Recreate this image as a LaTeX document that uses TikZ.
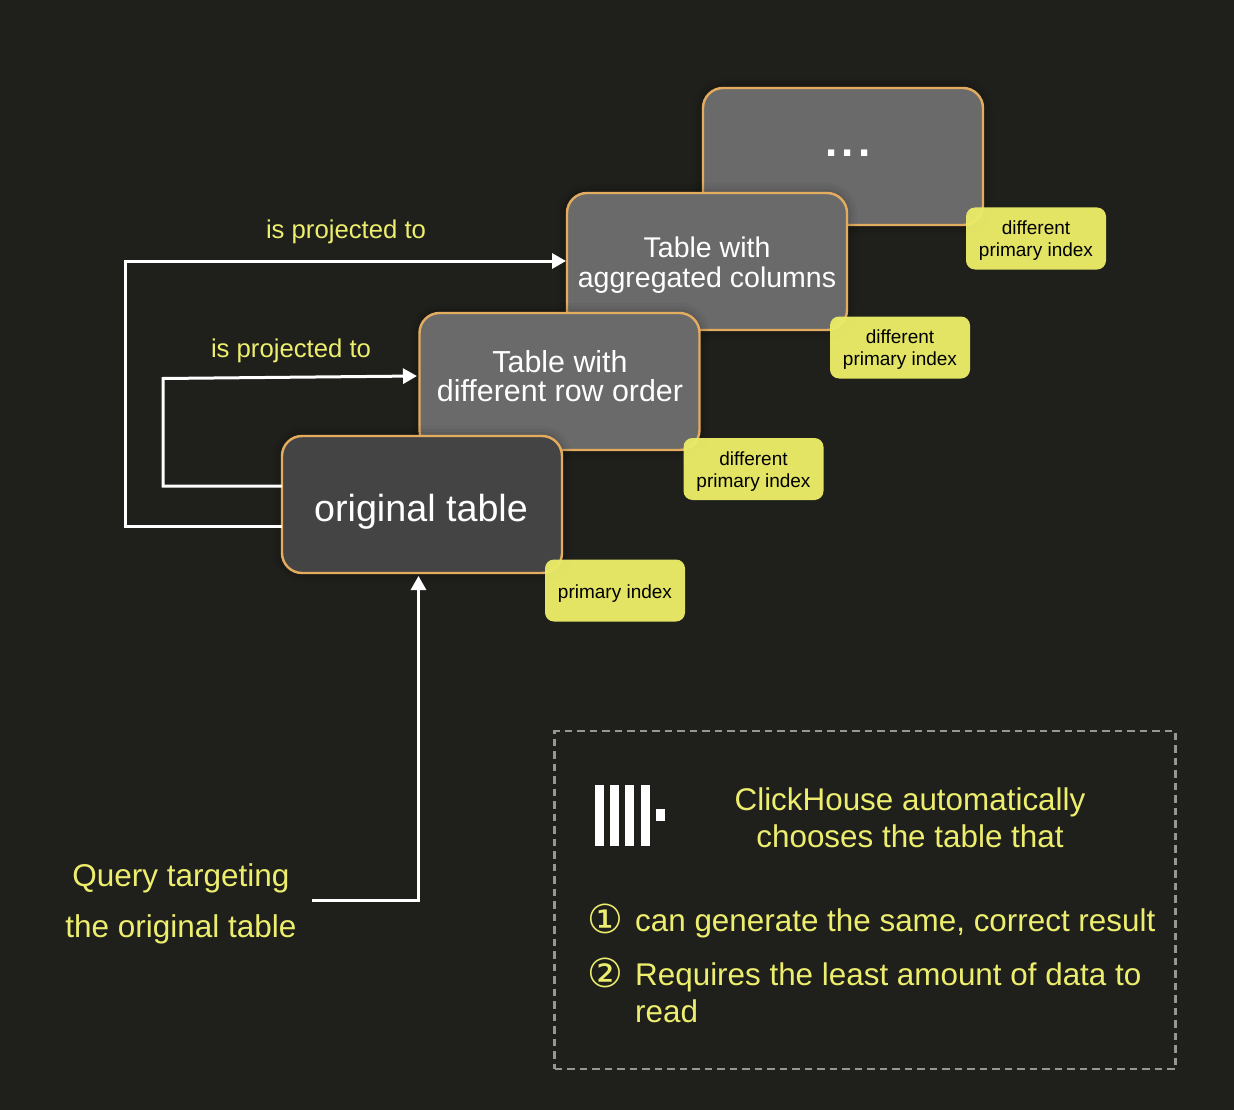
\documentclass[tikz,border=0pt]{standalone}
\usepackage{fontspec}
\setmainfont{Liberation Sans}
\newfontfamily\symfont{DejaVu Sans}
\usetikzlibrary{arrows.meta}
\definecolor{bgcol}{HTML}{1F201B}
\definecolor{boxgray}{HTML}{6A6A6A}
\definecolor{boxdark}{HTML}{444444}
\definecolor{edgeorange}{HTML}{E3AC5E}
\definecolor{noteyellow}{HTML}{EBEB68}
\definecolor{textyellow}{HTML}{EEEE6E}
\definecolor{dashgray}{HTML}{969696}
\newcommand{\fsz}[2]{\fontsize{#1}{#2}\selectfont}
\tikzset{
  softshade/.style={
    preaction={draw=black,draw opacity=.03,line width=20pt},
    preaction={draw=black,draw opacity=.04,line width=14pt},
    preaction={draw=black,draw opacity=.06,line width=8pt}},
  tablebox/.style={softshade,draw=edgeorange,line width=2.4pt,rounded corners=20pt,
    minimum width=280pt,minimum height=137pt,inner sep=0pt,outer sep=0pt},
  graybox/.style={tablebox,fill=boxgray},
  darkbox/.style={tablebox,fill=boxdark},
  boxtext/.style={text=white,align=center,inner sep=0pt,font=\fsz{28.5}{29.5}},
  notebox/.style={fill=noteyellow,fill opacity=.96,rounded corners=9pt,
    minimum width=140pt,minimum height=62pt,inner sep=0pt,outer sep=0pt},
  notetext/.style={text=black,align=center,inner sep=0pt,font=\fsz{19}{22}},
  flow/.style={draw=white,line width=3pt},
  flowarrow/.style={flow,line join=miter,-{Triangle[length=14pt,width=15pt]}},
  projlabel/.style={text=textyellow,font=\fsz{25.7}{30},inner sep=0pt},
  yellowtext/.style={text=textyellow,font=\fsz{31.4}{37},inner sep=0pt},
  circlenum/.style={text=textyellow,font=\symfont\fsz{40}{40},inner sep=0pt},
  logobar/.style={fill=white,inner sep=0pt,outer sep=0pt,minimum width=9pt,minimum height=61pt},
  logodot/.style={fill=white,inner sep=0pt,outer sep=0pt,minimum width=8.5pt,minimum height=12pt},
  legendframe/.style={draw=dashgray,line width=2.7pt,dash pattern=on 7.5pt off 5pt,
    minimum width=621pt,minimum height=338pt,inner sep=0pt,outer sep=0pt}
}
\begin{document}
\begin{tikzpicture}[x=1pt,y=-1pt]
\fill[bgcol] (0,0) rectangle (1234,1110);
\useasboundingbox (0,0) rectangle (1234,1110);

\node[graybox] (more) at (843,156.5) {};
\node[text=white,font=\bfseries\fsz{44}{44},inner sep=0pt,anchor=base] (moredots) at (848,156.3) {.\hspace{4.3pt}.\hspace{4.3pt}.};
\node[graybox] (agg) at (707,261.5) {};
\node[boxtext] (aggtext) at (707,265) {Table with\\aggregated columns};
\node[graybox] (roworder) at (559.5,381.5) {};
\node[boxtext,font=\fsz{30.4}{29.5}] (rowtext) at (560,376) {Table with\\different row order};
\node[darkbox] (orig) at (422,504.5) {};
\node[boxtext,font=\fsz{37.7}{40}] (origtext) at (421,511.5) {original table};

\coordinate (bendA) at (125,526);
\coordinate (bendB) at (125,261);
\coordinate (bendC) at (163,486);
\coordinate (bendD) at (163,378.5);
\coordinate (startQ) at (312,900);
\coordinate (bendQ) at (418.5,900);
\coordinate (endQ) at (418.5,576);
\coordinate (endR) at (417,376);
\draw[flowarrow,shorten >=1pt] (orig.west |- bendA) -- (bendA) -- (bendB) -- (agg.west |- bendB);
\draw[flowarrow] (orig.west |- bendC) -- (bendC) -- (bendD) -- (endR);
\draw[flowarrow] (startQ) -- (bendQ) -- (endQ);

\node[notebox] (noteD) at (1036,238.5) {};
\node[notetext] (noteDtext) at (1036,241) {different\\primary index};
\node[notebox] (noteC) at (900,347.5) {};
\node[notetext] (noteCtext) at (900,350) {different\\primary index};
\node[notebox] (noteB) at (753.5,469) {};
\node[notetext] (noteBtext) at (753.5,471.5) {different\\primary index};
\node[notebox] (noteA) at (615,590.5) {};
\node[notetext] (noteAtext) at (615,593.5) {primary index};

\node[projlabel] (projA) at (346,232) {is projected to};
\node[projlabel] (projB) at (291,351) {is projected to};

\node[text=textyellow,font=\fsz{31.5}{51},align=center,inner sep=0pt] (query) at (181,904) {Query targeting\\the original table};

\node[legendframe] (legend) at (865,900) {};
\node[logobar] (barA) at (599.5,815.5) {};
\node[logobar] (barB) at (614.5,815.5) {};
\node[logobar] (barC) at (629.8,815.5) {};
\node[logobar] (barD) at (645,815.5) {};
\node[logodot] (barE) at (660.3,815) {};
\node[yellowtext,align=center] (headline) at (910,818) {ClickHouse automatically\\chooses the table that};
\node[circlenum] (numA) at (605,919) {①};
\node[yellowtext,anchor=base west] (itemA) at (635,931) {can generate the same, correct result};
\node[circlenum] (numB) at (605,973) {②};
\node[yellowtext,anchor=north west,align=left] (itemB) at (635,962.5) {Requires the least amount of data to\\read};
\end{tikzpicture}
\end{document}
